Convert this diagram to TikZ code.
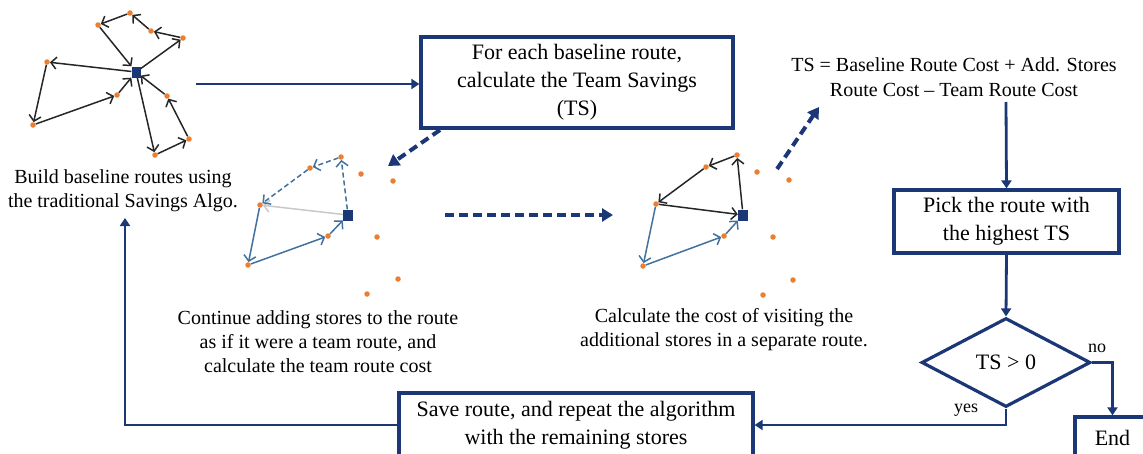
\documentclass[tikz,border=0pt]{standalone}
\usepackage{fontspec}
\setmainfont{Liberation Serif}
\usetikzlibrary{arrows.meta,shapes.geometric}
\definecolor{navy}{HTML}{1C3775}
\definecolor{dotc}{HTML}{ED7D31}
\definecolor{rblue}{HTML}{41719C}
\definecolor{rgray}{HTML}{C8C8C8}
\definecolor{rblack}{HTML}{262626}
\tikzset{
  pt/.style={circle,fill=dotc,inner sep=0pt,minimum size=5.5pt},
  depot/.style={rectangle,fill=navy,inner sep=0pt,minimum width=10pt,minimum height=11pt},
  redge/.style={line width=1.5pt,-{Straight Barb[length=5.5pt,width=12pt]}},
  blk/.style={redge,draw=rblack},
  blu/.style={redge,draw=rblue},
  blud/.style={redge,draw=rblue,dash pattern=on 5pt off 3pt},
  gry/.style={redge,draw=rgray},
  box/.style={draw=navy,line width=3.2pt,align=center,inner sep=0pt,font=\fontsize{22}{28}\selectfont},
  flow/.style={draw=navy,line width=2.8pt,-{Triangle[length=8pt,width=10pt]}},
  dflow/.style={draw=navy,line width=4pt,dash pattern=on 9pt off 5pt,-{Triangle[length=11pt,width=13pt]}},
  lbl/.style={align=center,inner sep=0pt,font=\fontsize{20}{24}\selectfont},
}
\begin{document}
\begin{tikzpicture}[x=1pt,y=-1pt]
\useasboundingbox (0,0) rectangle (1143,453);

% ---------- graph 1 ----------
\node[depot,minimum width=9pt] (d1) at (136,72) {};
\node[pt] (a1) at (130,13) {};
\node[pt] (b1) at (98,25) {};
\node[pt] (c1) at (151,31) {};
\node[pt] (e1) at (183,38) {};
\node[pt] (f1) at (47,62) {};
\node[pt] (g1) at (117,95) {};
\node[pt] (h1) at (33,125) {};
\node[pt] (i1) at (167,96) {};
\node[pt] (j1) at (189,139) {};
\node[pt] (k1) at (155,155) {};
\draw[blk] (d1) -- (e1);
\draw[blk] (e1) -- (c1);
\draw[blk] (c1) -- (a1);
\draw[blk] (a1) -- (b1);
\draw[blk] (b1) -- (d1);
\draw[blk] (d1) -- (f1);
\draw[blk] (f1) -- (h1);
\draw[blk] (h1) -- (g1);
\draw[blk] (g1) -- (d1);
\draw[blk] (d1) -- (k1);
\draw[blk] (k1) -- (j1);
\draw[blk] (j1) -- (i1);
\draw[blk] (i1) -- (d1);

% ---------- graph 2 ----------
\node[depot] (d2) at (348,215) {};
\node[pt] (q1) at (341,157) {};
\node[pt] (q2) at (310,168) {};
\node[pt] (q3) at (260,205) {};
\node[pt] (q4) at (248,265) {};
\node[pt] (q5) at (328,236) {};
\node[pt] (s21) at (361,174) {};
\node[pt] (s22) at (393,181) {};
\node[pt] (s23) at (377,237) {};
\node[pt] (s24) at (398,279) {};
\node[pt] (s25) at (367,294) {};
\draw[gry] (d2) -- (q3);
\draw[blud] (d2) -- (q1);
\draw[blud] (q1) -- (q2);
\draw[blud] (q2) -- (q3);
\draw[blu] (q3) -- (q4);
\draw[blu] (q4) -- (q5);
\draw[blu] (q5) -- (d2);

% ---------- graph 3 ----------
\node[depot] (d3) at (743,215) {};
\node[pt] (r1) at (737,155) {};
\node[pt] (r2) at (706,167) {};
\node[pt] (r3) at (656,204) {};
\node[pt] (r4) at (643,266) {};
\node[pt] (r5) at (724,236) {};
\node[pt] (s31) at (757,172) {};
\node[pt] (s32) at (789,180) {};
\node[pt] (s33) at (773,237) {};
\node[pt] (s34) at (793,280) {};
\node[pt] (s35) at (763,295) {};
\draw[blk] (d3) -- (r1);
\draw[blk] (r1) -- (r2);
\draw[blk] (r2) -- (r3);
\draw[blk] (r3) -- (d3);
\draw[blu] (r3) -- (r4);
\draw[blu] (r4) -- (r5);
\draw[blu] (r5) -- (d3);

% ---------- texts ----------
\node[lbl] (t1) at (123,191) {Build baseline routes using\\the traditional Savings Algo.};
\node[lbl] (t2) at (318,342) {Continue adding stores to the route\\as if it were a team route, and\\calculate the team route cost};
\node[lbl] (t3) at (724,330) {Calculate the cost of visiting the\\additional stores in a separate route.};
\node[lbl,font=\fontsize{20}{25}\selectfont] (ts) at (954,77) {TS = Baseline Route Cost + Add. Stores\\Route Cost -- Team Route Cost};

% ---------- boxes ----------
\node[box,minimum width=312pt,minimum height=91pt] (bx1) at (577,82.5) {For each baseline route,\\calculate the Team Savings\\(TS)};
\node[box,minimum width=225pt,minimum height=63pt] (bx2) at (1006.5,221.5) {Pick the route with\\the highest TS};
\node[box,diamond,minimum width=169pt,minimum height=89pt] (dia) at (1006,362.5) {TS > 0};
\node[box,minimum width=354pt,minimum height=64pt] (bx3) at (576,425) {Save route, and repeat the algorithm\\with the remaining stores};
\node[box,minimum width=75pt,minimum height=42pt] (endb) at (1112.5,438) {End};

% ---------- connectors ----------
\coordinate (g1out) at (196,84);
\draw[flow] (g1out) -- (g1out -| bx1.west);
\coordinate (da) at (440,130);
\coordinate (db) at (388,166);
\draw[dflow] (da) -- (db);
\coordinate (dc) at (445,215);
\coordinate (dd) at (613,215);
\draw[dflow] (dc) -- (dd);
\coordinate (de) at (777,169);
\coordinate (df) at (819,107);
\draw[dflow] (de) -- (df);
\coordinate (tsout) at (1006,102);
\draw[flow] (tsout) -- (bx2.north);
\draw[flow] (bx2.south) -- (dia.north);
\draw[flow] (dia.east) -| (endb.north);
\draw[flow] (dia.south) |- (bx3.east);
\coordinate (ret) at (125,218);
\draw[flow] (bx3.west) -| (ret);
\node[font=\fontsize{18}{20}\selectfont,inner sep=0pt] (no) at (1097,348) {no};
\node[font=\fontsize{18}{20}\selectfont,inner sep=0pt] (yes) at (966,410) {yes};
\end{tikzpicture}
\end{document}
